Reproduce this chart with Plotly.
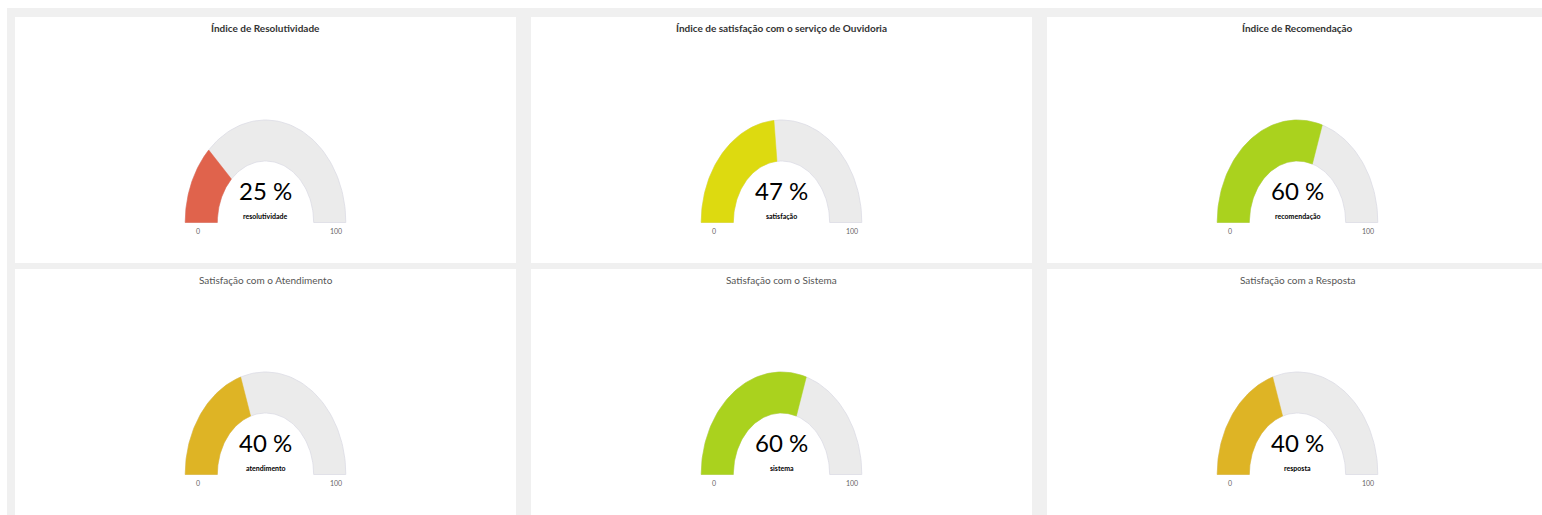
import numpy as np
import plotly.graph_objects as go

# ---- data ----
titles = [
    "Índice de Resolutividade",
    "Índice de satisfação com o serviço de Ouvidoria",
    "Índice de Recomendação",
    "Satisfação com o Atendimento",
    "Satisfação com o Sistema",
    "Satisfação com a Resposta",
]
values = [25, 47, 60, 40, 60, 40]
labels = ["resolutividade", "satisfação", "recomendação", "atendimento", "sistema", "resposta"]
colors = ["#E0634C", "#DDDA10", "#AAD21E", "#DEB425", "#AAD21E", "#DEB425"]
gauge_min, gauge_max = 0, 100
tick_labels = [str(gauge_min), str(gauge_max)]

# ---- geometry (pixels) ----
W, H = 1542, 515
col_x0 = [15, 531, 1047]
row_y0 = [17, 269]
PW, PH = 501, 246
RX, RY = 80.3, 102.5
HOLE = 0.6
CY_OFF = 205.5

FONT = "Lato, Liberation Sans, sans-serif"


def arc(v0, v1, n=80):
    a0 = np.pi * (1 - (v0 - gauge_min) / (gauge_max - gauge_min))
    a1 = np.pi * (1 - (v1 - gauge_min) / (gauge_max - gauge_min))
    t = np.linspace(a0, a1, n)
    xs = np.concatenate([np.cos(t), HOLE * np.cos(t[::-1]), [np.cos(t[0])]])
    ys = np.concatenate([np.sin(t), HOLE * np.sin(t[::-1]), [np.sin(t[0])]])
    return xs, ys


fig = go.Figure()
shapes = [
    dict(type="rect", xref="paper", yref="paper", x0=7 / W, x1=1, y0=0, y1=(H - 8) / H,
         fillcolor="#F0F0F0", line_width=0, layer="below")
]
annotations = []

for k in range(6):
    r, c = divmod(k, 3)
    x0p = col_x0[c]
    x1p = min(x0p + PW, W)
    y0p = row_y0[r]
    y1p = min(y0p + PH, H)
    cx = col_x0[c] + PW / 2
    cy = y0p + CY_OFF
    shapes.append(dict(type="rect", xref="paper", yref="paper",
                       x0=x0p / W, x1=x1p / W, y0=(H - y1p) / H, y1=(H - y0p) / H,
                       fillcolor="white", line_width=0, layer="below"))
    ax = "" if k == 0 else str(k + 1)
    xa, ya = "x" + ax, "y" + ax
    fig.update_layout(**{
        "xaxis" + ax: dict(domain=[x0p / W, x1p / W],
                           range=[(x0p - cx) / RX, (x1p - cx) / RX],
                           visible=False, fixedrange=True, anchor=ya),
        "yaxis" + ax: dict(domain=[(H - y1p) / H, (H - y0p) / H],
                           range=[(cy - y1p) / RY, (cy - y0p) / RY],
                           visible=False, fixedrange=True, anchor=xa),
    })
    # background arc
    gx, gy = arc(gauge_min, gauge_max)
    fig.add_trace(go.Scatter(x=gx, y=gy, xaxis=xa, yaxis=ya, mode="lines", fill="toself",
                             fillcolor="#EBEBEB", line=dict(color="#DCDCE4", width=0.8),
                             hoverinfo="skip", showlegend=False))
    vx, vy = arc(gauge_min, values[k])
    fig.add_trace(go.Scatter(x=vx, y=vy, xaxis=xa, yaxis=ya, mode="lines", fill="toself",
                             fillcolor=colors[k], line=dict(color=colors[k], width=0.5),
                             hoverinfo="skip", showlegend=False))
    # value text
    annotations.append(dict(xref=xa, yref=ya, x=0, y=0.31, text=f"{values[k]} %",
                            showarrow=False, xanchor="center",
                            font=dict(family=FONT, size=24, color="#000")))
    annotations.append(dict(xref=xa, yref=ya, x=0, y=0.06, text=f"<b>{labels[k]}</b>",
                            showarrow=False, xanchor="center",
                            font=dict(family=FONT, size=7, color="#000")))
    annotations.append(dict(xref=xa, yref=ya, x=-0.84, y=-0.085, text=tick_labels[0],
                            showarrow=False, xanchor="center",
                            font=dict(family=FONT, size=7, color="#666")))
    annotations.append(dict(xref=xa, yref=ya, x=0.88, y=-0.085, text=tick_labels[1],
                            showarrow=False, xanchor="center",
                            font=dict(family=FONT, size=7, color="#666")))
    # title
    t = f"<b>{titles[k]}</b>" if r == 0 else titles[k]
    annotations.append(dict(xref="paper", yref="paper", x=cx / W, y=(H - (y0p + 11)) / H,
                            text=t, showarrow=False, xanchor="center", yanchor="middle",
                            font=dict(family=FONT, size=10, color="#333" if r == 0 else "#555")))

fig.update_layout(width=W, height=H, margin=dict(l=0, r=0, t=0, b=0),
                  paper_bgcolor="white", plot_bgcolor="rgba(0,0,0,0)",
                  shapes=shapes, annotations=annotations, showlegend=False)
fig.write_html("out.html", config={"displayModeBar": False},
               post_script="document.body.style.margin='0';document.body.style.overflow='hidden';")
